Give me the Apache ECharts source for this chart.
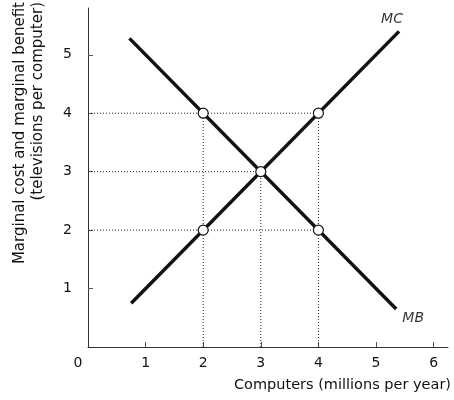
<!DOCTYPE html>
<html><head><meta charset="utf-8">
<script src="https://cdn.jsdelivr.net/npm/echarts@6/dist/echarts.min.js"></script>
<style>html,body{margin:0;padding:0;background:#fff}#c{width:454px;height:400px}</style>
</head><body><div id="c"></div>
<script>
// Data
const xTicks = [0, 1, 2, 3, 4, 5, 6];
const yTicks = [1, 2, 3, 4, 5];
const mcLine = [[0.75, 0.75], [5.4, 5.4]];
const mbLine = [[0.72, 5.28], [5.35, 0.65]];
const points = [[2, 4], [4, 4], [3, 3], [2, 2], [4, 2]];
const guideH = [[4, 4], [3, 3], [2, 4]]; // [y, x end]
const guideV = [[2, 4], [3, 3], [4, 4]]; // [x, y end]
const curveNames = ['MC', 'MB'];
const xName = 'Computers (millions per year)';
const yName = 'Marginal cost and marginal benefit\n(televisions per computer)';

const FONT = 'DejaVu Sans';
const ink = '#111';
const series = [];
guideH.forEach(g => series.push({
  type: 'line', data: [[0, g[0]], [g[1], g[0]]], symbol: 'none', silent: true,
  lineStyle: { color: '#222', width: 1, type: [1, 2] }, z: 1
}));
guideV.forEach(g => series.push({
  type: 'line', data: [[g[0], 0], [g[0], g[1]]], symbol: 'none', silent: true,
  lineStyle: { color: '#222', width: 1, type: [1, 2] }, z: 1
}));
series.push({
  type: 'line', name: curveNames[0], symbol: 'none', z: 3, data: mcLine,
  lineStyle: { color: ink, width: 3.5, cap: 'butt' }
});
series.push({
  type: 'line', name: curveNames[1], symbol: 'none', z: 3, data: mbLine,
  lineStyle: { color: ink, width: 3.5, cap: 'butt' }
});
// curve name labels at the line ends
series.push({
  type: 'scatter', symbolSize: 0, z: 4, silent: true,
  data: [
    { value: mcLine[1], label: { show: true, formatter: curveNames[0], position: 'top', offset: [-7, 0] } },
    { value: mbLine[1], label: { show: true, formatter: curveNames[1], position: 'bottom', offset: [17, -3] } }
  ],
  label: { fontStyle: 'italic', fontFamily: FONT, fontSize: 14, color: '#000' }
});
series.push({
  type: 'scatter', data: points, symbol: 'circle', symbolSize: 10, z: 5,
  itemStyle: { color: '#fff', borderColor: ink, borderWidth: 1.2, opacity: 1 }
});

const chart = echarts.init(document.getElementById('c'), null, { renderer: 'canvas' });
chart.setOption({
  animation: false,
  grid: { left: 88, right: 6, top: 8, bottom: 53 },
  xAxis: {
    type: 'value', min: 0, max: 6.25, interval: 1,
    splitLine: { show: false },
    axisLine: { lineStyle: { color: '#333', width: 1 } },
    axisTick: { show: true, inside: true, length: 5, lineStyle: { color: '#555' }, customValues: xTicks.filter(v => v > 0) },
    axisLabel: {
      customValues: xTicks, margin: 9, color: ink, fontFamily: FONT, fontSize: 14,
      formatter: v => v === 0 ? '{z|0}' : String(v),
      rich: { z: { padding: [0, 20, 0, 0], fontFamily: FONT, fontSize: 14, color: ink } }
    }
  },
  yAxis: {
    type: 'value', min: 0, max: 5.8, interval: 1,
    splitLine: { show: false },
    axisLine: { show: true, lineStyle: { color: '#333', width: 1 } },
    axisTick: { show: true, inside: true, length: 5, lineStyle: { color: '#555' }, customValues: yTicks },
    axisLabel: { customValues: yTicks, margin: 16, color: ink, fontFamily: FONT, fontSize: 14 }
  },
  graphic: [
    { type: 'text', right: 3, top: 378, style: { text: xName, fontFamily: FONT, fontSize: 14.5, fill: ink } },
    { type: 'text', x: 29, y: 2, rotation: Math.PI / 2,
      style: { text: yName, fontFamily: FONT, fontSize: 15, lineHeight: 18, fill: ink, align: 'right', verticalAlign: 'middle' } }
  ],
  series: series
});
</script></body></html>
